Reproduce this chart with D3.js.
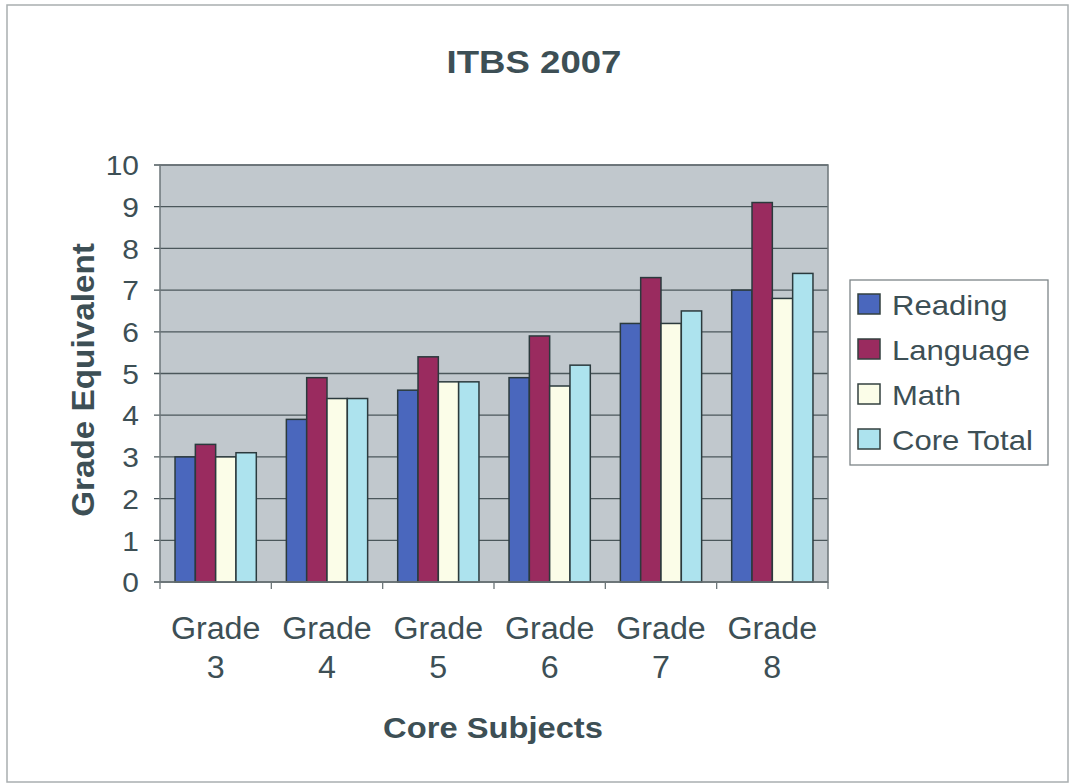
<!DOCTYPE html>
<html>
<head>
<meta charset="utf-8">
<script src="https://cdn.jsdelivr.net/npm/d3@7"></script>
<style>
  body { margin: 0; background: #fff; }
  text { font-family: "Liberation Sans", Arial, sans-serif; fill: #3d4f55; }
</style>
</head>
<body>
<div id="chart"></div>
<script>
const grades = ['3', '4', '5', '6', '7', '8'];
const seriesNames = ['Reading', 'Language', 'Math', 'Core Total'];
const reading = [3.0, 3.9, 4.6, 4.9, 6.2, 7.0];
const language = [3.3, 4.9, 5.4, 5.9, 7.3, 9.1];
const math = [3.0, 4.4, 4.8, 4.7, 6.2, 6.8];
const coreTotal = [3.1, 4.4, 4.8, 5.2, 6.5, 7.4];
const yTicks = [0, 1, 2, 3, 4, 5, 6, 7, 8, 9, 10];

const colors = ['#4a67bd', '#9a2b5f', '#fbfde8', '#ade3ee'];
const seriesValues = [reading, language, math, coreTotal];

const W = 1070, H = 784;
const margin = {top: 165, right: 242, bottom: 202, left: 160};
const width = W - margin.left - margin.right,
  height = H - margin.top - margin.bottom;

const svg = d3.select('#chart').append('svg')
  .attr('width', W)
  .attr('height', H);

// outer frame
svg.append('rect')
  .attr('x', 7).attr('y', 5)
  .attr('width', 1061).attr('height', 777)
  .attr('fill', '#fff')
  .attr('stroke', '#a9aeb0')
  .attr('stroke-width', 1.5);

// the scan is a bit wider than tall, so text gets a small horizontal stretch
svg.append('text')
  .attr('transform', 'translate(534,73) scale(1.18,1)')
  .attr('text-anchor', 'middle')
  .style('font-size', '31px')
  .style('font-weight', 'bold')
  .text('ITBS 2007');

const g = svg.append('g')
  .attr('transform', `translate(${margin.left},${margin.top})`);

const x = d3.scaleBand()
  .domain(grades)
  .range([0, width])
  .paddingInner(0.27)
  .paddingOuter(0.135);

const xs = d3.scaleBand()
  .domain(seriesNames)
  .range([0, x.bandwidth()]);

const y = d3.scaleLinear()
  .domain([0, 10])
  .range([height, 0]);

g.append('rect')
  .attr('width', width).attr('height', height)
  .attr('fill', '#c1c8cd');

g.append('g')
  .selectAll('line')
  .data(yTicks)
  .join('line')
  .attr('x1', -6).attr('x2', width)
  .attr('y1', d => y(d)).attr('y2', d => y(d))
  .attr('stroke', '#4b575b')
  .attr('stroke-width', 1.3);

g.append('rect')
  .attr('width', width).attr('height', height)
  .attr('fill', 'none')
  .attr('stroke', '#6c7679')
  .attr('stroke-width', 1.5);

const rows = grades.map((gr, i) => ({grade: gr, values: seriesNames.map((s, j) => ({key: s, value: seriesValues[j][i], color: colors[j]}))}));

g.selectAll('.grp')
  .data(rows)
  .join('g')
  .attr('class', 'grp')
  .attr('transform', d => `translate(${x(d.grade)},0)`)
  .selectAll('rect')
  .data(d => d.values)
  .join('rect')
  .attr('x', d => xs(d.key))
  .attr('width', xs.bandwidth())
  .attr('y', d => y(d.value))
  .attr('height', d => height - y(d.value))
  .attr('fill', d => d.color)
  .attr('stroke', '#2b3a3d')
  .attr('stroke-width', 1.5);

// y tick labels
g.append('g')
  .selectAll('text')
  .data(yTicks)
  .join('text')
  .attr('transform', d => `translate(-21,${y(d)}) scale(1.05,1)`)
  .attr('dy', '0.36em')
  .attr('text-anchor', 'end')
  .style('font-size', '28.5px')
  .text(d => d);

// x axis ticks
const xAxis = g.append('g')
  .attr('transform', `translate(0,${height})`);
xAxis.append('line')
  .attr('x1', 0).attr('x2', width)
  .attr('stroke', '#6c7679').attr('stroke-width', 1.5);
xAxis.selectAll('.tick')
  .data(d3.range(grades.length + 1))
  .join('line')
  .attr('x1', d => d * width / grades.length)
  .attr('x2', d => d * width / grades.length)
  .attr('y1', 0).attr('y2', 7)
  .attr('stroke', '#6c7679').attr('stroke-width', 1.3);

const xl = xAxis.selectAll('.lbl')
  .data(grades)
  .join('text')
  .attr('class', 'lbl')
  .attr('text-anchor', 'middle')
  .style('font-size', '31px')
  .attr('transform', d => `translate(${x(d) + x.bandwidth() / 2},0) scale(1.04,1)`);
xl.append('tspan').attr('x', 0).attr('y', 57).text('Grade');
xl.append('tspan').attr('x', 0).attr('y', 96).text(d => d);

svg.append('text')
  .attr('transform', 'translate(493,738) scale(1.09,1)')
  .attr('text-anchor', 'middle')
  .style('font-size', '30px')
  .style('font-weight', 'bold')
  .text('Core Subjects');

svg.append('text')
  .attr('transform', 'translate(94,380) rotate(-90) scale(1.04,1)')
  .attr('text-anchor', 'middle')
  .style('font-size', '32px')
  .style('font-weight', 'bold')
  .text('Grade Equivalent');

// legend
const legend = svg.append('g').attr('transform', 'translate(850,280)');
legend.append('rect')
  .attr('width', 198).attr('height', 185)
  .attr('fill', '#fff')
  .attr('stroke', '#7d8588')
  .attr('stroke-width', 1.3);
const li = legend.selectAll('.item')
  .data(seriesNames)
  .join('g')
  .attr('class', 'item')
  .attr('transform', (d, i) => `translate(8,${35 + i * 45})`);
li.append('rect')
  .attr('x', 0).attr('y', -21)
  .attr('width', 22).attr('height', 20)
  .attr('fill', (d, i) => colors[i])
  .attr('stroke', '#33403f')
  .attr('stroke-width', 1.5);
li.append('text')
  .attr('transform', 'translate(34,0) scale(1.15,1)')
  .style('font-size', '27px')
  .text(d => d);
</script>
</body>
</html>
